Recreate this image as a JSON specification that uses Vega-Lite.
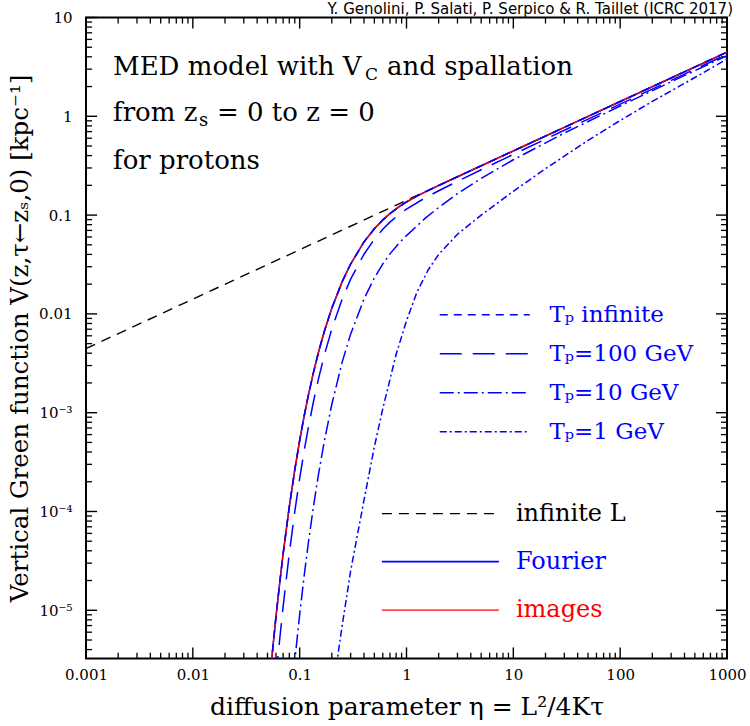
{
  "$schema": "https://vega.github.io/schema/vega-lite/v6.json",
  "width": 641,
  "height": 641,
  "autosize": {"type": "none"},
  "padding": {"left": 86, "top": 17.5, "right": 23, "bottom": 67.5},
  "background": "white",
  "title": {"text": "Y. Genolini, P. Salati, P. Serpico & R. Taillet (ICRC 2017)", "anchor": "end", "frame": "group", "font": "DejaVu Sans", "fontSize": 15, "fontWeight": "normal", "color": "#000000", "offset": 3, "dx": 6, "dy": 9},
  "datasets": {
    "xmaj": [{"v": 0.001}, {"v": 0.01}, {"v": 0.1}, {"v": 1}, {"v": 10}, {"v": 100}, {"v": 1000}],
    "xmin": [{"v": 0.002}, {"v": 0.003}, {"v": 0.004}, {"v": 0.005}, {"v": 0.006}, {"v": 0.007}, {"v": 0.008}, {"v": 0.009},
             {"v": 0.02}, {"v": 0.03}, {"v": 0.04}, {"v": 0.05}, {"v": 0.06}, {"v": 0.07}, {"v": 0.08}, {"v": 0.09},
             {"v": 0.2}, {"v": 0.3}, {"v": 0.4}, {"v": 0.5}, {"v": 0.6}, {"v": 0.7}, {"v": 0.8}, {"v": 0.9},
             {"v": 2}, {"v": 3}, {"v": 4}, {"v": 5}, {"v": 6}, {"v": 7}, {"v": 8}, {"v": 9},
             {"v": 20}, {"v": 30}, {"v": 40}, {"v": 50}, {"v": 60}, {"v": 70}, {"v": 80}, {"v": 90},
             {"v": 200}, {"v": 300}, {"v": 400}, {"v": 500}, {"v": 600}, {"v": 700}, {"v": 800}, {"v": 900}],
    "ymaj": [{"v": 0.00001}, {"v": 0.0001}, {"v": 0.001}, {"v": 0.01}, {"v": 0.1}, {"v": 1}, {"v": 10}],
    "ymin": [{"v": 4e-6}, {"v": 5e-6}, {"v": 6e-6}, {"v": 7e-6}, {"v": 8e-6}, {"v": 9e-6},
             {"v": 2e-5}, {"v": 3e-5}, {"v": 4e-5}, {"v": 5e-5}, {"v": 6e-5}, {"v": 7e-5}, {"v": 8e-5}, {"v": 9e-5},
             {"v": 2e-4}, {"v": 3e-4}, {"v": 4e-4}, {"v": 5e-4}, {"v": 6e-4}, {"v": 7e-4}, {"v": 8e-4}, {"v": 9e-4},
             {"v": 0.002}, {"v": 0.003}, {"v": 0.004}, {"v": 0.005}, {"v": 0.006}, {"v": 0.007}, {"v": 0.008}, {"v": 0.009},
             {"v": 0.02}, {"v": 0.03}, {"v": 0.04}, {"v": 0.05}, {"v": 0.06}, {"v": 0.07}, {"v": 0.08}, {"v": 0.09},
             {"v": 0.2}, {"v": 0.3}, {"v": 0.4}, {"v": 0.5}, {"v": 0.6}, {"v": 0.7}, {"v": 0.8}, {"v": 0.9},
             {"v": 2}, {"v": 3}, {"v": 4}, {"v": 5}, {"v": 6}, {"v": 7}, {"v": 8}, {"v": 9}],
    "infL": [{"eta": 0.001, "V": 0.00446}, {"eta": 1000, "V": 4.46}],
    "fourier": [
      {"eta": 0.054, "V": 2.73e-6}, {"eta": 0.056, "V": 4.11e-6}, {"eta": 0.06, "V": 8.57e-6}, {"eta": 0.065, "V": 1.89e-5},
      {"eta": 0.07, "V": 3.72e-5}, {"eta": 0.08, "V": 1.12e-4}, {"eta": 0.09, "V": 2.64e-4}, {"eta": 0.1, "V": 5.24e-4},
      {"eta": 0.11, "V": 9.17e-4}, {"eta": 0.12, "V": 1.464e-3}, {"eta": 0.135, "V": 2.59e-3}, {"eta": 0.15, "V": 4.09e-3},
      {"eta": 0.17, "V": 6.64e-3}, {"eta": 0.2, "V": 0.01144}, {"eta": 0.25, "V": 0.0212}, {"eta": 0.3, "V": 0.03197},
      {"eta": 0.4, "V": 0.05348}, {"eta": 0.5, "V": 0.0728}, {"eta": 0.6, "V": 0.0894}, {"eta": 0.7, "V": 0.1037},
      {"eta": 0.85, "V": 0.1214}, {"eta": 1, "V": 0.1359}, {"eta": 1.25, "V": 0.1556}, {"eta": 1.5, "V": 0.1719},
      {"eta": 2, "V": 0.1993}, {"eta": 3, "V": 0.2443}, {"eta": 5, "V": 0.3154}, {"eta": 10, "V": 0.446},
      {"eta": 30, "V": 0.7726}, {"eta": 100, "V": 1.4105}, {"eta": 300, "V": 2.443}, {"eta": 1000, "V": 4.46}
    ],
    "tp": [
      {"curve": "infinite", "eta": 0.054, "V": 2.73e-6}, {"curve": "infinite", "eta": 0.056, "V": 4.11e-6}, {"curve": "infinite", "eta": 0.06, "V": 8.57e-6}, {"curve": "infinite", "eta": 0.065, "V": 1.89e-5},
      {"curve": "infinite", "eta": 0.07, "V": 3.72e-5}, {"curve": "infinite", "eta": 0.08, "V": 1.12e-4}, {"curve": "infinite", "eta": 0.09, "V": 2.64e-4}, {"curve": "infinite", "eta": 0.1, "V": 5.24e-4},
      {"curve": "infinite", "eta": 0.11, "V": 9.17e-4}, {"curve": "infinite", "eta": 0.12, "V": 1.464e-3}, {"curve": "infinite", "eta": 0.135, "V": 2.59e-3}, {"curve": "infinite", "eta": 0.15, "V": 4.09e-3},
      {"curve": "infinite", "eta": 0.17, "V": 6.64e-3}, {"curve": "infinite", "eta": 0.2, "V": 0.01144}, {"curve": "infinite", "eta": 0.25, "V": 0.0212}, {"curve": "infinite", "eta": 0.3, "V": 0.03197},
      {"curve": "infinite", "eta": 0.4, "V": 0.05348}, {"curve": "infinite", "eta": 0.5, "V": 0.0728}, {"curve": "infinite", "eta": 0.6, "V": 0.0894}, {"curve": "infinite", "eta": 0.7, "V": 0.1037},
      {"curve": "infinite", "eta": 0.85, "V": 0.1214}, {"curve": "infinite", "eta": 1, "V": 0.1359}, {"curve": "infinite", "eta": 1.25, "V": 0.1556}, {"curve": "infinite", "eta": 1.5, "V": 0.1719},
      {"curve": "infinite", "eta": 2, "V": 0.1993}, {"curve": "infinite", "eta": 3, "V": 0.2443}, {"curve": "infinite", "eta": 5, "V": 0.3154}, {"curve": "infinite", "eta": 10, "V": 0.446},
      {"curve": "infinite", "eta": 30, "V": 0.7726}, {"curve": "infinite", "eta": 100, "V": 1.4105}, {"curve": "infinite", "eta": 300, "V": 2.443}, {"curve": "infinite", "eta": 1000, "V": 4.46},

      {"curve": "100 GeV", "eta": 0.06, "V": 2.07e-6}, {"curve": "100 GeV", "eta": 0.062, "V": 3.02e-6}, {"curve": "100 GeV", "eta": 0.065, "V": 5.06e-6}, {"curve": "100 GeV", "eta": 0.07, "V": 1.09e-5},
      {"curve": "100 GeV", "eta": 0.08, "V": 3.78e-5}, {"curve": "100 GeV", "eta": 0.09, "V": 9.96e-5}, {"curve": "100 GeV", "eta": 0.1, "V": 2.16e-4}, {"curve": "100 GeV", "eta": 0.11, "V": 4.07e-4},
      {"curve": "100 GeV", "eta": 0.12, "V": 6.9e-4}, {"curve": "100 GeV", "eta": 0.135, "V": 1.313e-3}, {"curve": "100 GeV", "eta": 0.15, "V": 2.2e-3}, {"curve": "100 GeV", "eta": 0.17, "V": 3.81e-3},
      {"curve": "100 GeV", "eta": 0.2, "V": 7.04e-3}, {"curve": "100 GeV", "eta": 0.25, "V": 0.01412}, {"curve": "100 GeV", "eta": 0.3, "V": 0.02247}, {"curve": "100 GeV", "eta": 0.4, "V": 0.04018},
      {"curve": "100 GeV", "eta": 0.5, "V": 0.0569}, {"curve": "100 GeV", "eta": 0.6, "V": 0.0718}, {"curve": "100 GeV", "eta": 0.7, "V": 0.0849}, {"curve": "100 GeV", "eta": 0.85, "V": 0.1014},
      {"curve": "100 GeV", "eta": 1, "V": 0.1151}, {"curve": "100 GeV", "eta": 1.5, "V": 0.1497}, {"curve": "100 GeV", "eta": 2, "V": 0.1762}, {"curve": "100 GeV", "eta": 3, "V": 0.2195},
      {"curve": "100 GeV", "eta": 5, "V": 0.2874}, {"curve": "100 GeV", "eta": 10, "V": 0.4117}, {"curve": "100 GeV", "eta": 30, "V": 0.7218}, {"curve": "100 GeV", "eta": 100, "V": 1.328},
      {"curve": "100 GeV", "eta": 300, "V": 2.312}, {"curve": "100 GeV", "eta": 1000, "V": 4.242},

      {"curve": "10 GeV", "eta": 0.088, "V": 2.37e-6}, {"curve": "10 GeV", "eta": 0.095, "V": 5.38e-6}, {"curve": "10 GeV", "eta": 0.1, "V": 9.04e-6}, {"curve": "10 GeV", "eta": 0.11, "V": 2.2e-5},
      {"curve": "10 GeV", "eta": 0.12, "V": 4.63e-5}, {"curve": "10 GeV", "eta": 0.135, "V": 1.148e-4}, {"curve": "10 GeV", "eta": 0.15, "V": 2.37e-4}, {"curve": "10 GeV", "eta": 0.17, "V": 5.13e-4},
      {"curve": "10 GeV", "eta": 0.2, "V": 1.218e-3}, {"curve": "10 GeV", "eta": 0.25, "V": 3.25e-3}, {"curve": "10 GeV", "eta": 0.3, "V": 6.24e-3}, {"curve": "10 GeV", "eta": 0.4, "V": 0.01415},
      {"curve": "10 GeV", "eta": 0.5, "V": 0.0231}, {"curve": "10 GeV", "eta": 0.6, "V": 0.032}, {"curve": "10 GeV", "eta": 0.7, "V": 0.0405}, {"curve": "10 GeV", "eta": 0.85, "V": 0.052},
      {"curve": "10 GeV", "eta": 1, "V": 0.062}, {"curve": "10 GeV", "eta": 1.5, "V": 0.0931}, {"curve": "10 GeV", "eta": 2, "V": 0.1194}, {"curve": "10 GeV", "eta": 3, "V": 0.1652},
      {"curve": "10 GeV", "eta": 5, "V": 0.2353}, {"curve": "10 GeV", "eta": 10, "V": 0.363}, {"curve": "10 GeV", "eta": 30, "V": 0.677}, {"curve": "10 GeV", "eta": 100, "V": 1.271},
      {"curve": "10 GeV", "eta": 300, "V": 2.233}, {"curve": "10 GeV", "eta": 1000, "V": 4.117},

      {"curve": "1 GeV", "eta": 0.22, "V": 2.7e-6}, {"curve": "1 GeV", "eta": 0.25, "V": 7e-6}, {"curve": "1 GeV", "eta": 0.3, "V": 2.5e-5}, {"curve": "1 GeV", "eta": 0.4, "V": 1.3e-4},
      {"curve": "1 GeV", "eta": 0.5, "V": 4.5e-4}, {"curve": "1 GeV", "eta": 0.6, "V": 1.1e-3}, {"curve": "1 GeV", "eta": 0.8, "V": 3.9e-3}, {"curve": "1 GeV", "eta": 1, "V": 8.5e-3},
      {"curve": "1 GeV", "eta": 1.25, "V": 0.0165}, {"curve": "1 GeV", "eta": 1.6, "V": 0.028}, {"curve": "1 GeV", "eta": 2, "V": 0.04}, {"curve": "1 GeV", "eta": 3, "V": 0.064},
      {"curve": "1 GeV", "eta": 5, "V": 0.1}, {"curve": "1 GeV", "eta": 7, "V": 0.131}, {"curve": "1 GeV", "eta": 10, "V": 0.174}, {"curve": "1 GeV", "eta": 20, "V": 0.295},
      {"curve": "1 GeV", "eta": 30, "V": 0.395}, {"curve": "1 GeV", "eta": 50, "V": 0.57}, {"curve": "1 GeV", "eta": 100, "V": 0.907}, {"curve": "1 GeV", "eta": 200, "V": 1.413},
      {"curve": "1 GeV", "eta": 500, "V": 2.47}, {"curve": "1 GeV", "eta": 1000, "V": 3.8}
    ]
  },
  "layer": [
    {
      "data": {"name": "xmaj"},
      "mark": {"type": "rule", "color": "#000000", "strokeWidth": 1.4},
      "encoding": {"x": {"field": "v", "type": "quantitative", "scale": {"type": "log", "domain": [0.001, 1000], "nice": false}, "axis": null}, "y": {"datum": 3.25e-6, "type": "quantitative", "scale": {"type": "log", "domain": [3.25e-6, 10], "nice": false}, "axis": null}, "y2": {"datum": 4.21e-6}}
    },
    {
      "data": {"name": "xmin"},
      "mark": {"type": "rule", "color": "#000000", "strokeWidth": 1.3},
      "encoding": {"x": {"field": "v", "type": "quantitative", "scale": {"type": "log"}, "axis": null}, "y": {"datum": 3.25e-6, "type": "quantitative", "scale": {"type": "log"}, "axis": null}, "y2": {"datum": 3.72e-6}}
    },
    {
      "data": {"name": "xmaj"},
      "mark": {"type": "rule", "color": "#000000", "strokeWidth": 1.4},
      "encoding": {"x": {"field": "v", "type": "quantitative", "scale": {"type": "log"}, "axis": null}, "y": {"datum": 10, "type": "quantitative", "scale": {"type": "log"}, "axis": null}, "y2": {"datum": 7.72}}
    },
    {
      "data": {"name": "xmin"},
      "mark": {"type": "rule", "color": "#000000", "strokeWidth": 1.3},
      "encoding": {"x": {"field": "v", "type": "quantitative", "scale": {"type": "log"}, "axis": null}, "y": {"datum": 10, "type": "quantitative", "scale": {"type": "log"}, "axis": null}, "y2": {"datum": 8.69}}
    },
    {
      "data": {"name": "ymaj"},
      "mark": {"type": "rule", "color": "#000000", "strokeWidth": 1.4},
      "encoding": {"y": {"field": "v", "type": "quantitative", "scale": {"type": "log"}, "axis": null}, "x": {"datum": 0.001, "type": "quantitative", "scale": {"type": "log"}, "axis": null}, "x2": {"datum": 0.00127}}
    },
    {
      "data": {"name": "ymin"},
      "mark": {"type": "rule", "color": "#000000", "strokeWidth": 1.3},
      "encoding": {"y": {"field": "v", "type": "quantitative", "scale": {"type": "log"}, "axis": null}, "x": {"datum": 0.001, "type": "quantitative", "scale": {"type": "log"}, "axis": null}, "x2": {"datum": 0.00114}}
    },
    {
      "data": {"name": "ymaj"},
      "mark": {"type": "rule", "color": "#000000", "strokeWidth": 1.4},
      "encoding": {"y": {"field": "v", "type": "quantitative", "scale": {"type": "log"}, "axis": null}, "x": {"datum": 1000, "type": "quantitative", "scale": {"type": "log"}, "axis": null}, "x2": {"datum": 789}}
    },
    {
      "data": {"name": "ymin"},
      "mark": {"type": "rule", "color": "#000000", "strokeWidth": 1.3},
      "encoding": {"y": {"field": "v", "type": "quantitative", "scale": {"type": "log"}, "axis": null}, "x": {"datum": 1000, "type": "quantitative", "scale": {"type": "log"}, "axis": null}, "x2": {"datum": 879}}
    },
    {
      "data": {"name": "infL"},
      "mark": {"type": "line", "color": "#000000", "strokeDash": [10, 7], "strokeWidth": 1.4, "clip": true},
      "encoding": {
        "x": {"field": "eta", "type": "quantitative", "scale": {"type": "log"},
          "axis": {"orient": "bottom", "values": [0.001, 0.01, 0.1, 1, 10, 100, 1000], "format": "~g", "ticks": false, "domain": false, "grid": false, "labelPadding": 9, "labelFlush": false, "labelOverlap": false, "title": "diffusion parameter η = L²/4Kτ", "titleFontSize": 25, "titlePadding": 12}},
        "y": {"field": "V", "type": "quantitative", "scale": {"type": "log"},
          "axis": {"orient": "left", "values": [0.00001, 0.0001, 0.001, 0.01, 0.1, 1, 10], "labelExpr": "datum.value >= 0.005 ? format(datum.value, '~g') : datum.value >= 0.0005 ? '10⁻³' : datum.value >= 0.00005 ? '10⁻⁴' : '10⁻⁵'", "ticks": false, "domain": false, "grid": false, "labelPadding": 14, "labelFlush": false, "labelOverlap": false, "title": "Vertical Green function V(z,τ←zₛ,0) [kpc⁻¹]", "titleFontSize": 24.5, "titlePadding": 6}},
        "opacity": {"datum": "infinite L", "type": "nominal", "scale": {"range": [1]},
          "legend": {"orient": "none", "legendX": 338.9, "legendY": 480.6, "title": null, "padding": 0, "symbolType": "M-4,0H4", "symbolSize": 855.5625, "symbolStrokeColor": "#000000", "symbolStrokeWidth": 1.4, "symbolDash": [10, 7], "labelColor": "#000000", "labelFont": "DejaVu Serif", "labelFontSize": 24, "labelOffset": 60}}
      }
    },
    {
      "data": {"name": "fourier"},
      "mark": {"type": "line", "strokeWidth": 1.6, "clip": true},
      "encoding": {
        "x": {"field": "eta", "type": "quantitative", "scale": {"type": "log"}, "axis": null},
        "y": {"field": "V", "type": "quantitative", "scale": {"type": "log"}, "axis": null},
        "color": {"datum": "Fourier", "type": "nominal", "scale": {"range": ["#0000ff"]},
          "legend": {"orient": "none", "legendX": 338.9, "legendY": 528.6, "title": null, "padding": 0, "symbolType": "M-4,0H4", "symbolSize": 855.5625, "symbolStrokeWidth": 1.6, "labelColor": "#0000ff", "labelFont": "DejaVu Serif", "labelFontSize": 24, "labelOffset": 60}}
      }
    },
    {
      "data": {"name": "fourier"},
      "mark": {"type": "line", "strokeWidth": 1.3, "clip": true},
      "encoding": {
        "x": {"field": "eta", "type": "quantitative", "scale": {"type": "log"}, "axis": null},
        "y": {"field": "V", "type": "quantitative", "scale": {"type": "log"}, "axis": null},
        "stroke": {"datum": "images", "type": "nominal", "scale": {"range": ["#ff0000"]},
          "legend": {"orient": "none", "legendX": 338.9, "legendY": 577.2, "title": null, "padding": 0, "symbolType": "M-4,0H4", "symbolSize": 855.5625, "symbolStrokeWidth": 1.3, "labelColor": "#ff0000", "labelFont": "DejaVu Serif", "labelFontSize": 24, "labelOffset": 60}}
      }
    },
    {
      "data": {"name": "tp"},
      "mark": {"type": "line", "color": "#0000ff", "strokeWidth": 1.5, "clip": true},
      "encoding": {
        "x": {"field": "eta", "type": "quantitative", "scale": {"type": "log"}, "axis": null},
        "y": {"field": "V", "type": "quantitative", "scale": {"type": "log"}, "axis": null},
        "strokeDash": {"field": "curve", "type": "nominal",
          "scale": {"domain": ["infinite", "100 GeV", "10 GeV", "1 GeV"], "range": [[8, 6], [22, 11], [14, 4, 2, 4], [7, 3, 2, 3]]},
          "legend": {"orient": "none", "legendX": 386.75, "legendY": 285.25, "title": null, "padding": 0, "symbolType": "M-4,0H4", "symbolSize": 506.25, "symbolStrokeColor": "#0000ff", "symbolStrokeWidth": 1.5, "labelColor": "#0000ff", "labelFont": "DejaVu Serif", "labelFontSize": 23, "labelOffset": 52.75, "rowPadding": 15, "labelLimit": 300,
            "labelExpr": "datum.label == 'infinite' ? 'Tₚ infinite' : 'Tₚ=' + datum.label"}}
      }
    },
    {
      "data": {"values": [{}]},
      "mark": {"type": "text", "text": "MED model with V", "align": "left", "baseline": "middle", "font": "DejaVu Serif", "fontSize": 26, "color": "#000000"},
      "encoding": {"x": {"datum": 0.00179, "type": "quantitative", "scale": {"type": "log"}, "axis": null}, "y": {"datum": 3.16, "type": "quantitative", "scale": {"type": "log"}, "axis": null}}
    },
    {
      "data": {"values": [{}]},
      "mark": {"type": "text", "text": "C", "align": "left", "baseline": "middle", "font": "DejaVu Serif", "fontSize": 17, "dx": 252, "dy": 8, "color": "#000000"},
      "encoding": {"x": {"datum": 0.00179, "type": "quantitative", "scale": {"type": "log"}, "axis": null}, "y": {"datum": 3.16, "type": "quantitative", "scale": {"type": "log"}, "axis": null}}
    },
    {
      "data": {"values": [{}]},
      "mark": {"type": "text", "text": "and spallation", "align": "left", "baseline": "middle", "font": "DejaVu Serif", "fontSize": 26, "dx": 274, "color": "#000000"},
      "encoding": {"x": {"datum": 0.00179, "type": "quantitative", "scale": {"type": "log"}, "axis": null}, "y": {"datum": 3.16, "type": "quantitative", "scale": {"type": "log"}, "axis": null}}
    },
    {
      "data": {"values": [{}]},
      "mark": {"type": "text", "text": "from z", "align": "left", "baseline": "middle", "font": "DejaVu Serif", "fontSize": 26, "color": "#000000"},
      "encoding": {"x": {"datum": 0.00179, "type": "quantitative", "scale": {"type": "log"}, "axis": null}, "y": {"datum": 1.083, "type": "quantitative", "scale": {"type": "log"}, "axis": null}}
    },
    {
      "data": {"values": [{}]},
      "mark": {"type": "text", "text": "s", "align": "left", "baseline": "middle", "font": "DejaVu Serif", "fontSize": 18, "dx": 86, "dy": 8, "color": "#000000"},
      "encoding": {"x": {"datum": 0.00179, "type": "quantitative", "scale": {"type": "log"}, "axis": null}, "y": {"datum": 1.083, "type": "quantitative", "scale": {"type": "log"}, "axis": null}}
    },
    {
      "data": {"values": [{}]},
      "mark": {"type": "text", "text": "= 0 to z = 0", "align": "left", "baseline": "middle", "font": "DejaVu Serif", "fontSize": 26, "dx": 104, "color": "#000000"},
      "encoding": {"x": {"datum": 0.00179, "type": "quantitative", "scale": {"type": "log"}, "axis": null}, "y": {"datum": 1.083, "type": "quantitative", "scale": {"type": "log"}, "axis": null}}
    },
    {
      "data": {"values": [{}]},
      "mark": {"type": "text", "text": "for protons", "align": "left", "baseline": "middle", "font": "DejaVu Serif", "fontSize": 26, "color": "#000000"},
      "encoding": {"x": {"datum": 0.00179, "type": "quantitative", "scale": {"type": "log"}, "axis": null}, "y": {"datum": 0.354, "type": "quantitative", "scale": {"type": "log"}, "axis": null}}
    }
  ],
  "resolve": {"axis": {"x": "independent", "y": "independent"}},
  "config": {
    "view": {"stroke": "#000000", "strokeWidth": 2},
    "axis": {"domainColor": "#000000", "domainWidth": 2, "labelColor": "#000000", "labelFont": "DejaVu Serif", "labelFontSize": 15, "titleFont": "DejaVu Serif", "titleFontSize": 22, "titleFontWeight": "normal", "titleColor": "#000000"},
    "legend": {"labelFont": "DejaVu Serif", "labelFontSize": 22}
  }
}
